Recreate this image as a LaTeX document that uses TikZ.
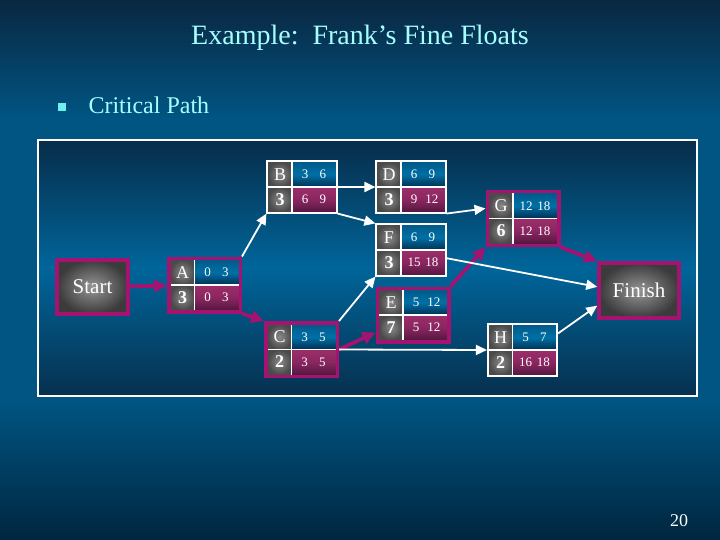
\documentclass[tikz,border=0pt]{standalone}
\usepackage{fontspec}
\setmainfont{Liberation Serif}
\usetikzlibrary{arrows.meta,positioning,calc}
\definecolor{BgDark}{HTML}{0A2741}
\definecolor{BgMid}{HTML}{005583}
\definecolor{BgLow}{HTML}{00263F}
\definecolor{FrameTop}{HTML}{072D4A}
\definecolor{FrameMid}{HTML}{00659A}
\definecolor{FrameBot}{HTML}{06304E}
\definecolor{Crit}{HTML}{A3136F}
\definecolor{Cyan}{HTML}{A6FFFF}
\definecolor{Bullet}{HTML}{6FF0F0}
\definecolor{GreyIn}{HTML}{8A8A8A}
\definecolor{GreyOut}{HTML}{4A4A4A}
\definecolor{EarlyTop}{HTML}{005A8A}
\definecolor{EarlyMid}{HTML}{0070A5}
\definecolor{EarlyBot}{HTML}{002F52}
\definecolor{LateTop}{HTML}{9B2E6B}
\definecolor{LateMid}{HTML}{8A2660}
\definecolor{LateBot}{HTML}{551840}
\pgfdeclareverticalshading{slidebg}{100bp}{color(0bp)=(BgLow); color(25bp)=(BgLow); color(38bp)=(BgMid); color(64bp)=(BgMid); color(75bp)=(BgDark); color(100bp)=(BgDark)}
\newcommand{\titlesize}{\fontsize{28pt}{30pt}\selectfont}
\newcommand{\pointsize}{\fontsize{24pt}{26pt}\selectfont}
\newcommand{\numpair}[2]{\makebox[18pt]{#1}\makebox[18pt]{#2}}
\tikzset{
  cell/.style={inner sep=0pt,outer sep=0pt,minimum height=25pt,text=white},
  letcell/.style={cell,minimum width=24pt,inner color=GreyIn,outer color=GreyOut,font=\fontsize{18pt}{18pt}\selectfont},
  durcell/.style={letcell,font=\fontsize{18pt}{18pt}\selectfont\bfseries},
  earlycell/.style={cell,minimum width=44pt,top color=EarlyTop,bottom color=EarlyBot,middle color=EarlyMid,font=\fontsize{13pt}{13pt}\selectfont},
  latecell/.style={cell,minimum width=44pt,top color=LateTop,bottom color=LateBot,middle color=LateMid,font=\fontsize{13pt}{13pt}\selectfont},
  divline/.style={draw=white,line width=1.4pt},
  critbox/.style={draw=Crit,line width=3.5pt,minimum width=71.5pt,minimum height=53.5pt},
  plainbox/.style={draw=white,line width=1.6pt,minimum width=69.5pt,minimum height=51.5pt},
  endbox/.style={draw=Crit,line width=3.5pt,inner color=GreyIn!90,outer color=GreyOut!80!black,text=white,font=\fontsize{21pt}{21pt}\selectfont},
  frame/.style={draw=white,line width=2.4pt,top color=FrameTop,bottom color=FrameBot,middle color=FrameMid},
  warr/.style={-{Triangle[length=11pt,width=10pt]},line width=1.8pt,draw=white},
  carr/.style={-{Triangle[length=13pt,width=12pt]},line width=3.8pt,draw=Crit}
}
% name, centre, letter, duration, early times, late times, border
\newcommand{\actbox}[7]{%
  \coordinate (#1-c) at (#2);
  \node[letcell,anchor=south east] (#1-let) at ([xshift=-10pt]#1-c) {#3};
  \node[durcell,anchor=north east] (#1-dur) at ([xshift=-10pt]#1-c) {#4};
  \node[earlycell,anchor=south west] (#1-es) at ([xshift=-10pt]#1-c) {#5};
  \node[latecell,anchor=north west] (#1-ls) at ([xshift=-10pt]#1-c) {#6};
  \draw[divline] (#1-let.north east) -- (#1-dur.south east);
  \draw[divline] (#1-let.south west) -- (#1-es.south east);
  \node[#7] (#1) at (#1-c) {};
}
\begin{document}
\begin{tikzpicture}[x=1pt,y=-1pt]
  \useasboundingbox (0,0) rectangle (720,540);
  \fill[shading=slidebg] (0,0) rectangle (720,540);
  \node[font=\titlesize,text=Cyan] (title) at (360,38) {Example:\ \ Frank's Fine Floats};
  \node[fill=Bullet,minimum size=8pt,inner sep=0pt] (bullet) at (62,107) {};
  \node[font=\pointsize,text=Cyan,anchor=west] (point) at (85,105) {Critical Path};
  \node[text=white,font=\fontsize{18pt}{18pt}\selectfont] (pageno) at (679,521) {20};
  \draw[frame] (38,140) rectangle (697,396);
  % network
  \node[endbox,minimum width=71pt,minimum height=54pt] (start) at (92.5,287) {Start};
  \node[endbox,minimum width=80pt,minimum height=55pt] (finish) at (639,290.5) {Finish};
  \actbox{A}{204.5,285}{A}{3}{\numpair{0}{3}}{\numpair{0}{3}}{critbox}
  \actbox{B}{302,187}{B}{3}{\numpair{3}{6}}{\numpair{6}{9}}{plainbox}
  \actbox{C}{301.5,349.5}{C}{2}{\numpair{3}{5}}{\numpair{3}{5}}{critbox}
  \actbox{D}{411,187}{D}{3}{\numpair{6}{9}}{\numpair{9}{12}}{plainbox}
  \actbox{E}{413,315}{E}{7}{\numpair{5}{12}}{\numpair{5}{12}}{critbox}
  \actbox{F}{411,250}{F}{3}{\numpair{6}{9}}{\numpair{15}{18}}{plainbox}
  \actbox{G}{523,218.5}{G}{6}{\numpair{12}{18}}{\numpair{12}{18}}{critbox}
  \actbox{H}{522.5,350}{H}{2}{\numpair{5}{7}}{\numpair{16}{18}}{plainbox}
  % critical path
  \draw[carr] (start) -- (A);
  \draw[carr] (A.south east) -- (C.north west);
  \draw[carr] (C.east) -- (E.205);
  \draw[carr] (E.north east) -- (G.south west);
  \draw[carr] (G.south east) -- (finish.north west);
  % other links
  \draw[warr] (A.north east) -- (B.south west);
  \draw[warr] (B.east) -- (D.west);
  \draw[warr] (B.south east) -- (F.north west);
  \draw[warr] (D.south east) -- (G.165);
  \draw[warr] (C.north east) -- (F.south west);
  \draw[warr] (C.east) -- (H.west);
  \draw[warr] (F.-13) -- (finish.175);
  \draw[warr] (H.25) -- (finish.200);
\end{tikzpicture}
\end{document}
